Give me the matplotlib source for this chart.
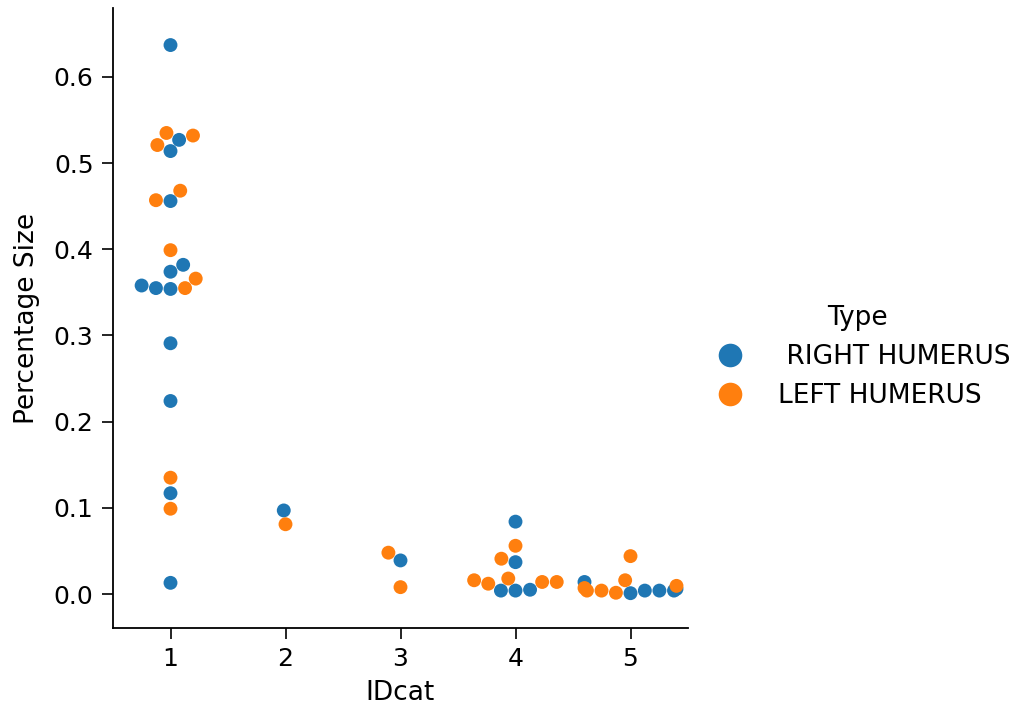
import matplotlib
matplotlib.use("Agg")
import matplotlib.pyplot as plt
from matplotlib.lines import Line2D
import seaborn as sns
import pandas as pd
import warnings
warnings.filterwarnings("ignore")

categories = ["1", "2", "3", "4", "5"]
type_labels = [" RIGHT HUMERUS", "LEFT HUMERUS"]
colors = ["#1f77b4", "#ff7f0e"]

right_1 = [0.637, 0.527, 0.514, 0.456, 0.382, 0.374, 0.358, 0.355, 0.354, 0.291, 0.224, 0.117, 0.013]
left_1 = [0.535, 0.532, 0.521, 0.468, 0.457, 0.399, 0.366, 0.355, 0.135, 0.099]
right_2 = [0.097]
left_2 = [0.081]
right_3 = [0.039]
left_3 = [0.048, 0.008]
right_4 = [0.084, 0.037, 0.004, 0.004, 0.005]
left_4 = [0.056, 0.041, 0.012, 0.016, 0.018, 0.014, 0.014]
right_5 = [0.014, 0.004, 0.001, 0.004, 0.004, 0.006]
left_5 = [0.007, 0.004, 0.0015, 0.016, 0.044, 0.004, 0.0095]

right_vals = [right_1, right_2, right_3, right_4, right_5]
left_vals = [left_1, left_2, left_3, left_4, left_5]

rows = []
for cat, rv, lv in zip(categories, right_vals, left_vals):
    for v in rv:
        rows.append((cat, v, type_labels[0]))
    for v in lv:
        rows.append((cat, v, type_labels[1]))
df = pd.DataFrame(rows, columns=["IDcat", "Percentage Size", "Type"])

plt.rcParams['font.family'] = ['DejaVu Sans']
fig = plt.figure(figsize=(10.15, 7.13), dpi=100)
ax = fig.add_axes([113/1015, 1 - 628/713, (688 - 113)/1015, (628 - 8)/713])

sns.swarmplot(data=df, x="IDcat", y="Percentage Size", hue="Type",
              order=categories, hue_order=type_labels, palette=colors,
              size=10, linewidth=0, ax=ax, legend=False)

ax.set_xlim(-0.5, 4.5)
ax.set_ylim(-0.0394, 0.68)
ax.set_yticks([0.0, 0.1, 0.2, 0.3, 0.4, 0.5, 0.6])
ax.set_yticklabels(["0.0", "0.1", "0.2", "0.3", "0.4", "0.5", "0.6"])
ax.tick_params(labelsize=18, length=8, width=1.2, pad=6)
ax.set_xlabel("IDcat", fontsize=19, labelpad=6)
ax.set_ylabel("Percentage Size", fontsize=19, labelpad=10)
for s in ["top", "right"]:
    ax.spines[s].set_visible(False)
for s in ["left", "bottom"]:
    ax.spines[s].set_linewidth(1.3)

handles = [Line2D([], [], marker="o", linestyle="", markersize=17,
                  markerfacecolor=c, markeredgewidth=0) for c in colors]
leg = fig.legend(handles, type_labels, title="Type", loc="center",
                 bbox_to_anchor=(857/1015, 1 - 357/713), frameon=False,
                 fontsize=19, title_fontsize=19, handletextpad=0.8,
                 labelspacing=0.5)

fig.savefig("out.png", dpi=100)
